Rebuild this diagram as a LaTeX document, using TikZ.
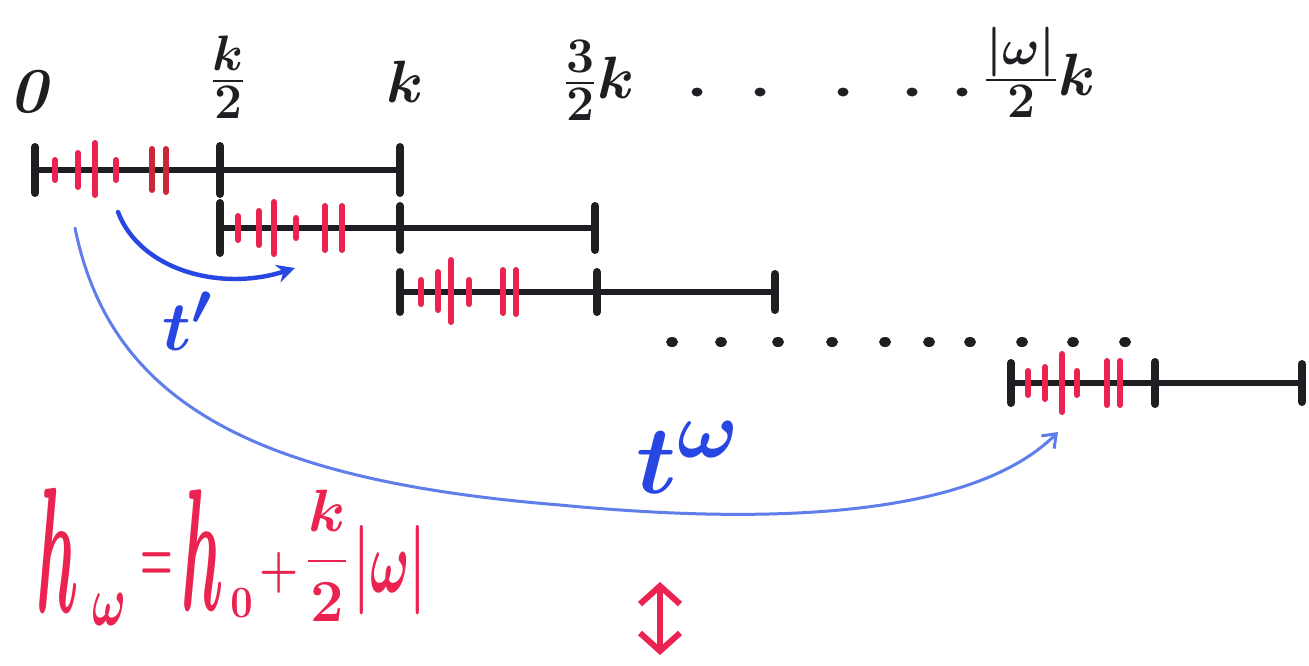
\documentclass[tikz,border=0pt]{standalone}
\usepackage{amsmath}
\usetikzlibrary{arrows.meta}
\definecolor{ink}{RGB}{30,30,35}
\definecolor{mred}{RGB}{235,35,80}
\definecolor{dred}{RGB}{200,40,55}
\definecolor{mblue}{RGB}{40,70,225}
\definecolor{lblue}{RGB}{95,125,235}
\newcommand{\fsz}[1]{\fontsize{#1}{#1}\selectfont\boldmath}
\begin{document}
\begin{tikzpicture}[x=0.5pt,y=-0.5pt,
  axisline/.style={ink,line width=3pt,line cap=round},
  btick/.style={ink,line width=4pt,line cap=round},
  rtick/.style={mred,line width=3pt,line cap=round},
  drtick/.style={dred,line width=3pt,line cap=round},
  inkdot/.style={fill=ink,draw=none},
  gl/.style={inner sep=0pt,transform shape,font=\fsz{24.88}},
  lbl/.style={gl,text=ink},
  rlbl/.style={gl,text=mred},
  blbl/.style={gl,text=mblue}]
\useasboundingbox (0,0) rectangle (1309,665);
\fill[white] (0,0) rectangle (1309,665);

% ---- top labels
\node[inner sep=0pt,text=ink,anchor=base,font=\fsz{32}] (l0) at (28,112) {\bfseries\itshape 0};
\begin{scope}[shift={(228,96)},scale=1.2]
  \node[lbl,anchor=base] (lk2) at (0,0) {$\tfrac{k}{2}$};
\end{scope}
\begin{scope}[shift={(405,102)},scale=1.2]
  \node[lbl,anchor=base] (lk) at (0,0) {$k$};
\end{scope}
\begin{scope}[shift={(563,98)},scale=1.2]
  \node[lbl,anchor=base west] (l32k) at (0,0) {$\tfrac{3}{2}k$};
\end{scope}
\begin{scope}[shift={(983,95)},scale=1.2]
  \node[lbl,anchor=base west] (lwk) at (0,0) {$\tfrac{|\omega|}{2}k$};
\end{scope}
\foreach \x in {697,760,843,912,962} \fill[inkdot] (\x,92) ellipse [x radius=5.5, y radius=4.5];

% ---- row 1
\draw[axisline] (35,170) -- (400,170);
\foreach \x/\h in {35/23,220/24,400/23} \draw[btick] (\x,170-\h) -- (\x,170+\h);
\foreach \x/\a/\b in {55/10/10,78/17/17,95/27/25,116/10/10} \draw[rtick] (\x,170-\a) -- (\x,170+\b);
\foreach \x/\a/\b in {152/21/20,166/21/22} \draw[drtick] (\x,170-\a) -- (\x,170+\b);

% ---- row 2
\draw[axisline] (220,228) -- (595,228);
\foreach \x/\h in {220/25,400/22,595/22} \draw[btick] (\x,228-\h) -- (\x,228+\h);
\foreach \x/\a/\b in {238/12/12,259/17/17,274/26/26,296/10/10,325/22/22,342/22/22} \draw[rtick] (\x,228-\a) -- (\x,228+\b);

% ---- row 3
\draw[axisline] (400,292) -- (775,292);
\foreach \x/\h in {400/20,597/20,775/18} \draw[btick] (\x,292-\h) -- (\x,292+\h);
\foreach \x/\a/\b in {421/12/12,438/20/18,451/32/30,469/12/12,503/22/21,516/22/22} \draw[rtick] (\x,292-\a) -- (\x,292+\b);

% ---- dotted row
\foreach \x in {672,721,778,832,885,929,970,1022,1073,1125} \fill[inkdot] (\x,342) ellipse [x radius=6, y radius=5];

% ---- row 4
\draw[axisline] (1011,383) -- (1302,383);
\foreach \x/\h in {1011/20,1155/21,1302/19} \draw[btick] (\x,383-\h) -- (\x,383+\h);
\foreach \x/\a/\b in {1028/12/12,1045/16/16,1062/29/29,1077/12/12,1107/22/22,1120/22/22} \draw[rtick] (\x,383-\a) -- (\x,383+\b);

% ---- blue arrows
\coordinate (tpS) at (118,212);
\coordinate (tpE) at (295,268);
\draw[mblue,line width=2.2pt,line cap=round,-{Stealth[length=9pt,width=9pt]}]
  (tpS) .. controls (140,270) and (220,292) .. (tpE);
\begin{scope}[shift={(162,350)},scale=1.4]
  \node[blbl,anchor=base west] (tp) at (0,0) {$t'$};
\end{scope}

\coordinate (twS) at (75,228);
\coordinate (twM) at (560,505);
\coordinate (twE) at (1058,432);
\draw[lblue,line width=1.5pt,line cap=round,-{Straight Barb[length=6pt,width=9pt]}]
  (twS) .. controls (110,400) and (250,480) .. (twM)
        .. controls (800,528) and (980,510) .. (twE);
\begin{scope}[shift={(636,493)},scale=1.95]
  \node[blbl,anchor=base west] (tw) at (0,0) {$t^{\omega}$};
\end{scope}

% ---- red formula
\begin{scope}[shift={(36,612)},xscale=1.27,yscale=3.6]
  \node[rlbl,anchor=base west] (h1) at (0,0) {$h$};
\end{scope}
\begin{scope}[shift={(92,625)},xscale=0.9,yscale=1.45]
  \node[rlbl,anchor=base west] (w1) at (0,0) {$\omega$};
\end{scope}
\begin{scope}[shift={(157,567)},xscale=0.75,yscale=1.5]
  \node[rlbl] (eq) at (0,0) {$=$};
\end{scope}
\begin{scope}[shift={(181,610)},xscale=1.27,yscale=3.5]
  \node[rlbl,anchor=base west] (h2) at (0,0) {$h$};
\end{scope}
\begin{scope}[shift={(230,617)},xscale=0.8,yscale=0.9]
  \node[rlbl,anchor=base west] (z0) at (0,0) {$0$};
\end{scope}
\begin{scope}[shift={(279,573)},xscale=0.9,yscale=1.1]
  \node[rlbl] (pl) at (0,0) {$+$};
\end{scope}
\begin{scope}[shift={(327,576)},scale=1.2]
  \node[rlbl,anchor=base] (fr) at (0,0) {$\dfrac{k}{2}$};
\end{scope}
\begin{scope}[shift={(390,570)},xscale=1.05,yscale=1.8]
  \node[rlbl] (absw) at (0,0) {$|\omega|$};
\end{scope}

\coordinate (da1) at (660,582);
\coordinate (da2) at (660,655);
\draw[mred,line width=3pt,{Straight Barb[length=9pt,width=20pt]}-{Straight Barb[length=9pt,width=20pt]}] (da1) -- (da2);
\end{tikzpicture}
\end{document}
